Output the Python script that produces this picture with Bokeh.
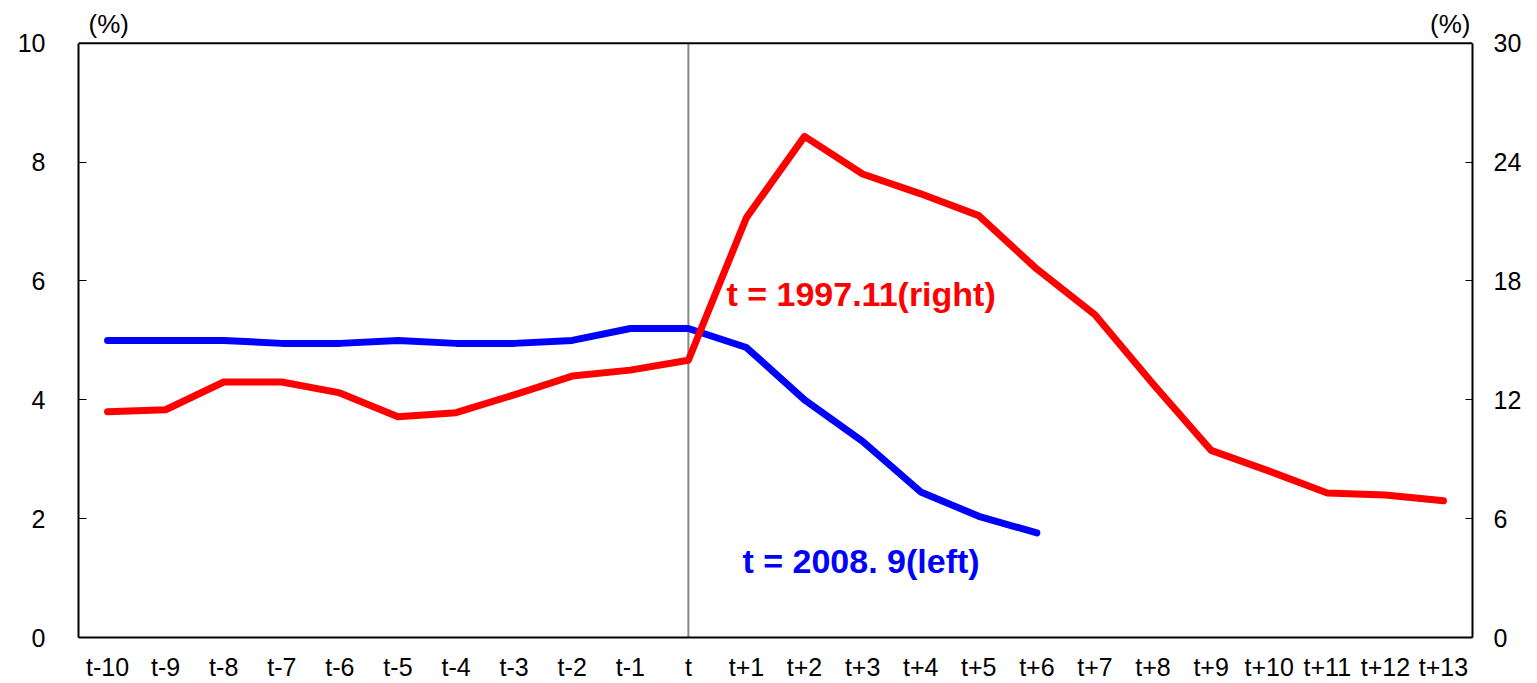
from bokeh.plotting import figure
from bokeh.models import FactorRange, Range1d, LinearAxis, FixedTicker, Span
from bokeh.core.properties import value
from bokeh.embed import file_html
from bokeh.resources import INLINE

categories = ["t-10", "t-9", "t-8", "t-7", "t-6", "t-5", "t-4", "t-3", "t-2", "t-1", "t",
              "t+1", "t+2", "t+3", "t+4", "t+5", "t+6", "t+7", "t+8", "t+9", "t+10",
              "t+11", "t+12", "t+13"]
red_1997 = [11.4, 11.5, 12.9, 12.9, 12.35, 11.15, 11.35, 12.25, 13.2, 13.5, 14.0,
            21.2, 25.3, 23.4, 22.4, 21.3, 18.6, 16.3, 12.8, 9.45, 8.4, 7.3, 7.2, 6.9]
blue_2008 = [5.0, 5.0, 5.0, 4.95, 4.95, 5.0, 4.95, 4.95, 5.0, 5.2, 5.2,
             4.88, 4.0, 3.3, 2.45, 2.04, 1.76]
left_ticks = [0, 2, 4, 6, 8, 10]
right_ticks = [0, 6, 12, 18, 24, 30]
left_max = 10
right_max = 30
red_label = "t = 1997.11(right)"
blue_label = "t = 2008. 9(left)"
unit_label = "(%)"

FONT = "Liberation Sans"

W, H = 1537, 683
FRAME_L, FRAME_R, FRAME_T, FRAME_B = 78, 1472, 4, 640
BOX_TOP = 43  # pixel row of the top of the chart box
stretch = (FRAME_B - FRAME_T) / (FRAME_B - BOX_TOP)

p = figure(x_range=FactorRange(factors=categories, range_padding=0),
           y_range=Range1d(0, left_max * stretch),
           width=W, height=H,
           output_backend="svg", toolbar_location=None,
           min_border_left=FRAME_L, min_border_right=W - FRAME_R,
           min_border_top=FRAME_T, min_border_bottom=H - FRAME_B)
p.extra_y_ranges = {"right": Range1d(0, right_max * stretch)}

p.xgrid.visible = False
p.ygrid.visible = False
p.outline_line_color = None
p.background_fill_color = "white"
p.border_fill_color = "white"

# bottom axis
xa = p.xaxis[0]
xa.major_tick_line_color = None
xa.major_tick_in = 0
xa.major_tick_out = 0
xa.minor_tick_line_color = None
xa.axis_line_color = "black"
xa.axis_line_width = 2
xa.major_label_text_font = FONT
xa.major_label_text_font_size = "25px"
xa.major_label_text_color = "black"
xa.major_label_standoff = 15

# left axis
ya = p.yaxis[0]
ya.ticker = FixedTicker(ticks=left_ticks)
ya.bounds = (0, left_max)
ya.major_tick_in = 8
ya.major_tick_out = 0
ya.minor_tick_line_color = None
ya.axis_line_color = "black"
ya.axis_line_width = 2
ya.major_label_text_font = FONT
ya.major_label_text_font_size = "25px"
ya.major_label_text_color = "black"
ya.major_label_standoff = 33

# right axis
ra = LinearAxis(y_range_name="right", ticker=FixedTicker(ticks=right_ticks))
ra.bounds = (0, right_max)
ra.major_tick_in = 7
ra.major_tick_out = 0
ra.minor_tick_line_color = None
ra.axis_line_color = "black"
ra.axis_line_width = 2
ra.major_label_text_font = FONT
ra.major_label_text_font_size = "25px"
ra.major_label_text_color = "black"
ra.major_label_standoff = 21
p.add_layout(ra, "right")

# top edge of the chart box
p.add_layout(Span(location=left_max, dimension="width", line_color="black", line_width=2))

# vertical line at t
p.segment(x0=["t"], y0=[0], x1=["t"], y1=[left_max], line_color="#888888", line_width=2)

# series
p.line(x=categories[:len(blue_2008)], y=blue_2008, line_color="#0000ff", line_width=7,
       line_cap="round", line_join="round")
p.line(x=categories, y=red_1997, y_range_name="right", line_color="#ff0000", line_width=7,
       line_cap="round", line_join="round")

# annotations
p.text(x=["t+1"], y=[5.78], text=[red_label], x_offset=-20, text_baseline="middle",
       text_align="left", text_font=value(FONT), text_font_style="bold",
       text_font_size="34px", text_color="#ff0000")
p.text(x=["t+1"], y=[1.28], text=[blue_label], x_offset=-4, text_baseline="middle",
       text_align="left", text_font=value(FONT), text_font_style="bold",
       text_font_size="34px", text_color="#0000ff")

# unit labels above the box
p.text(x=[categories[0]], y=[left_max], text=[unit_label], x_offset=-19, y_offset=-19,
       text_baseline="middle", text_align="left", text_font=value(FONT),
       text_font_size="26px", text_color="black")
p.text(x=[categories[-1]], y=[left_max], text=[unit_label], x_offset=27, y_offset=-19,
       text_baseline="middle", text_align="right", text_font=value(FONT),
       text_font_size="26px", text_color="black")

open("out.html", "w").write(file_html(p, INLINE))
